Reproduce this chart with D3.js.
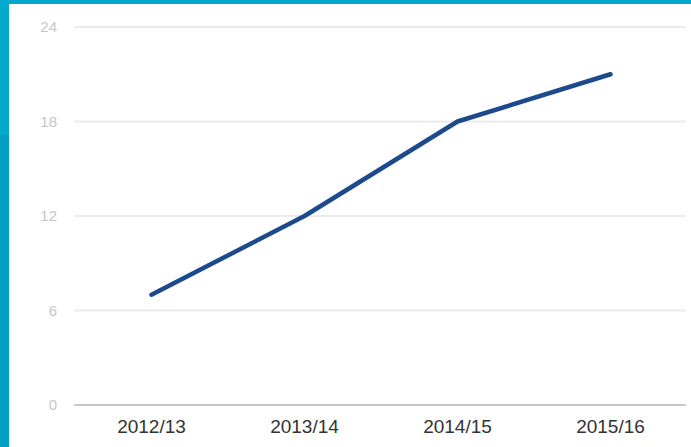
<!DOCTYPE html>
<html><head><meta charset="utf-8">
<script src="https://cdn.jsdelivr.net/npm/d3@7"></script>
<style>html,body{margin:0;padding:0;background:#fff;}</style>
</head><body>
<svg id="c" width="691" height="447"></svg>
<script>
const categories = ["2012/13", "2013/14", "2014/15", "2015/16"];
const values = [7, 12, 18, 21];
const yTicks = [0, 6, 12, 18, 24];

const svg = d3.select("#c");
// frame
svg.append("rect").attr("x",0).attr("y",0).attr("width",691).attr("height",447).attr("fill","#fff");
svg.append("rect").attr("x",0).attr("y",0).attr("width",691).attr("height",4).attr("fill","#03a8cc");
svg.append("rect").attr("x",0).attr("y",0).attr("width",9).attr("height",135).attr("fill","#03a9cd");
svg.append("rect").attr("x",0).attr("y",135).attr("width",9).attr("height",312).attr("fill","#019fc6");

const x = d3.scaleBand().domain(categories).range([75, 687]);
const y = d3.scaleLinear().domain([0, 24]).range([405, 27]);

const g = svg.append("g");
g.selectAll("line.grid").data(yTicks).join("line")
  .attr("x1", 74).attr("x2", 686)
  .attr("y1", d => y(d)).attr("y2", d => y(d))
  .attr("stroke", d => d === 0 ? "#c8c8c8" : "#ebebeb")
  .attr("stroke-width", 2);

g.selectAll("text.yl").data(yTicks).join("text")
  .attr("x", 57).attr("y", d => y(d)).attr("dy", "0.36em")
  .attr("text-anchor", "end")
  .attr("font-family", "Liberation Sans, Arial, sans-serif")
  .attr("font-size", 15).attr("fill", "#c6c6c6")
  .text(d => d);

g.selectAll("text.xl").data(categories).join("text")
  .attr("x", d => x(d) + x.bandwidth()/2).attr("y", 433)
  .attr("text-anchor", "middle")
  .attr("font-family", "Liberation Sans, Arial, sans-serif")
  .attr("font-size", 19).attr("fill", "#333")
  .text(d => d);

const line = d3.line().x((d,i) => x(categories[i]) + x.bandwidth()/2).y(d => y(d));
g.append("path").datum(values).attr("d", line)
  .attr("fill", "none").attr("stroke", "#1d4a8c").attr("stroke-width", 4.5)
  .attr("stroke-linecap", "round").attr("stroke-linejoin", "round");
</script>
</body></html>
